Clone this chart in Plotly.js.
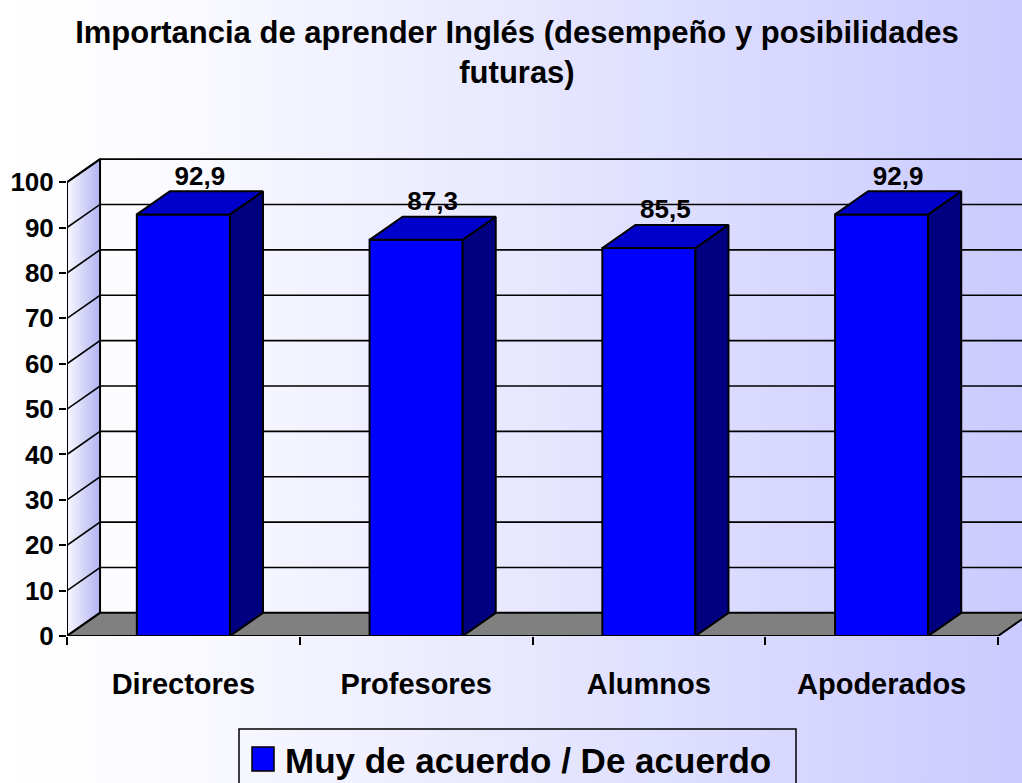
<!DOCTYPE html>
<html><head><meta charset="utf-8">
<script src="https://cdn.plot.ly/plotly-3.0.1.min.js"></script>
<style>
html,body{margin:0;padding:0;overflow:hidden;}
#chart{width:1022px;height:783px;background:linear-gradient(to right,#ffffff 0%,#fcfcff 14%,#e8e8ff 50%,#cacaff 100%);}
</style></head><body><div id="chart"></div>
<script>
// ---- data ----
const categories = ['Directores', 'Profesores', 'Alumnos', 'Apoderados'];
const values = [92.9, 87.3, 85.5, 92.9];
const valueLabels = ['92,9', '87,3', '85,5', '92,9'];
const yTicks = [0, 10, 20, 30, 40, 50, 60, 70, 80, 90, 100];
const seriesName = 'Muy de acuerdo / De acuerdo';
const titleText = 'Importancia de aprender Inglés (desempeño y posibilidades<br>futuras)';

// ---- geometry / style ----
const W = 1022, H = 783, ML = 67, MR = 0, MT = 155, MB = 147;
const DX = 0.142, DY = 5.1, HALF = 0.2;
const nCat = categories.length;
const xMin = -0.5;
const pxPerCat = 931 / 4;
const xMax = xMin + (W - ML - MR) / pxPerCat;
const yTop = yTicks[yTicks.length - 1];
const FONT = 'Liberation Sans, Arial, sans-serif';
const plotW = W - ML - MR, plotH = H - MT - MB;
const px2x = p => (p - ML) / plotW;
const py2y = p => (H - MB - p) / plotH;

// left wall
const leftWall = {
  type: 'scatter', mode: 'lines', xaxis: 'x', yaxis: 'y',
  x: [xMin, xMin + DX, xMin + DX, xMin, xMin],
  y: [0, DY, yTop + DY, yTop, 0],
  fill: 'toself', fillcolor: '#d8d8fa',
  fillgradient: {type: 'horizontal', colorscale: [[0, '#f8f8ff'], [1, '#b2b2f2']]},
  line: {color: '#000', width: 2}, cliponaxis: false, hoverinfo: 'skip', showlegend: false
};
// floor
const floor = {
  type: 'scatter', mode: 'lines', xaxis: 'x', yaxis: 'y',
  x: [xMin, xMin + nCat, xMin + nCat + DX, xMin + DX, xMin],
  y: [0, 0, DY, DY, 0],
  fill: 'toself', fillcolor: '#808080',
  line: {color: '#000', width: 2}, cliponaxis: false, hoverinfo: 'skip', showlegend: false
};
// gridlines (left wall diagonals + back wall horizontals)
const gx = [], gy = [];
yTicks.slice(1).forEach(v => {
  gx.push(xMin, xMin + DX, xMin + nCat + DX, null);
  gy.push(v, v + DY, v + DY, null);
});
const grid = {
  type: 'scatter', mode: 'lines', xaxis: 'x', yaxis: 'y', x: gx, y: gy,
  line: {color: '#000', width: 1.6}, cliponaxis: false, hoverinfo: 'skip', showlegend: false
};

// bars (front faces)
const idx = categories.map((c, i) => i);
const bars = {
  type: 'bar', xaxis: 'x2', yaxis: 'y', x: idx, y: values, width: 2 * HALF,
  name: seriesName, marker: {color: '#0000ff', line: {color: '#000', width: 2}},
  cliponaxis: false, showlegend: false, hovertext: categories, hoverinfo: 'text+y'
};
const tx = [], ty = [], sx = [], sy = [];
values.forEach((v, i) => {
  tx.push(i - HALF, i + HALF, i + HALF + DX, i - HALF + DX, i - HALF, null);
  ty.push(v, v, v + DY, v + DY, v, null);
  sx.push(i + HALF, i + HALF + DX, i + HALF + DX, i + HALF, i + HALF, null);
  sy.push(0, DY, v + DY, v, 0, null);
});
const tops = {
  type: 'scatter', mode: 'lines', xaxis: 'x2', yaxis: 'y', x: tx, y: ty,
  fill: 'toself', fillcolor: '#0000cc', line: {color: '#000', width: 2},
  cliponaxis: false, hoverinfo: 'skip', showlegend: false
};
const sides = {
  type: 'scatter', mode: 'lines', xaxis: 'x2', yaxis: 'y', x: sx, y: sy,
  fill: 'toself', fillcolor: '#000080', line: {color: '#000', width: 2},
  cliponaxis: false, hoverinfo: 'skip', showlegend: false
};
const labels = {
  type: 'scatter', mode: 'text', xaxis: 'x2', yaxis: 'y',
  x: idx.map(i => i + DX / 2), y: values.map(v => v + DY),
  text: valueLabels, textposition: 'top center',
  textfont: {family: FONT, size: 26, weight: 'bold', color: '#000'},
  cliponaxis: false, hoverinfo: 'skip', showlegend: false
};

const layout = {
  width: W, height: H,
  margin: {l: ML, r: MR, t: MT, b: MB},
  paper_bgcolor: 'rgba(0,0,0,0)', plot_bgcolor: 'rgba(0,0,0,0)',
  showlegend: false,
  title: {
    text: titleText, xref: 'container', yref: 'container',
    x: 517 / W, xanchor: 'center', y: 1 - 43 / H, yanchor: 'top',
    font: {family: FONT, size: 31, weight: 'bold', color: '#000'}
  },
  xaxis: {
    range: [xMin, xMax], tickmode: 'array', tickvals: idx, ticktext: categories,
    ticks: 'outside', ticklen: 22, tickcolor: 'rgba(0,0,0,0)',
    showline: false, showgrid: false, zeroline: false, fixedrange: true,
    tickfont: {family: FONT, size: 29, weight: 'bold', color: '#000'}
  },
  xaxis2: {
    overlaying: 'x', anchor: 'y', side: 'bottom', range: [xMin, xMax],
    tickmode: 'array', tickvals: categories.map((c, i) => i - 0.5).concat([nCat - 0.5]),
    ticks: 'outside', ticklen: 8, tickwidth: 2, tickcolor: '#000',
    showticklabels: false, showline: false, showgrid: false, zeroline: false, fixedrange: true
  },
  yaxis: {
    range: [0, 106], tickmode: 'array', tickvals: yTicks,
    ticks: 'outside', ticklen: 7, tickwidth: 2, tickcolor: '#000',
    showline: false, showgrid: false, zeroline: false, fixedrange: true,
    tickfont: {family: FONT, size: 26, weight: 'bold', color: '#000'}
  },
  shapes: [
    {type: 'rect', xref: 'paper', yref: 'paper', x0: px2x(239), x1: px2x(796), y0: py2y(800), y1: py2y(729),
     line: {color: '#000', width: 1.5}, fillcolor: 'rgba(0,0,0,0)'},
    {type: 'rect', xref: 'paper', yref: 'paper', x0: px2x(252), x1: px2x(274), y0: py2y(771), y1: py2y(747),
     line: {color: '#000', width: 1.5}, fillcolor: '#0000ff'}
  ],
  annotations: [
    {text: seriesName, xref: 'paper', yref: 'paper', x: px2x(283), y: py2y(760),
     xanchor: 'left', yanchor: 'middle', showarrow: false,
     font: {family: FONT, size: 35, weight: 'bold', color: '#000'}}
  ]
};

Plotly.newPlot('chart', [leftWall, floor, grid, bars, sides, tops, labels], layout, {displayModeBar: false, staticPlot: true});
</script></body></html>
